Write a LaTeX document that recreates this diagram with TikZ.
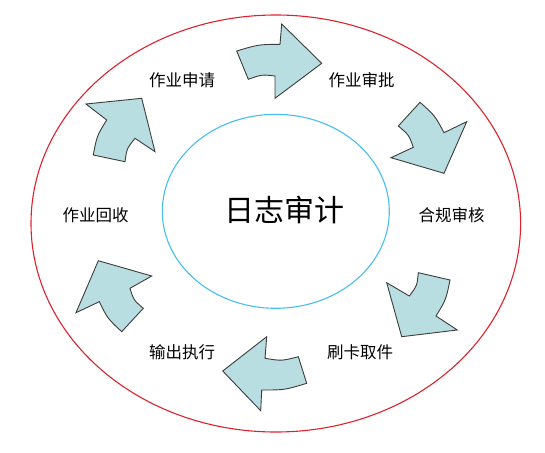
\documentclass[tikz,border=0pt]{standalone}
\usepackage{fontspec}
\setmainfont{Noto Sans CJK SC}
\definecolor{arrowfill}{RGB}{184,222,225}
\definecolor{arrowline}{RGB}{60,60,60}
\definecolor{outerred}{RGB}{220,35,45}
\definecolor{innerblue}{RGB}{70,190,240}
\tikzset{
  flowarrow/.style={fill=arrowfill, draw=arrowline, line width=0.9pt, line join=miter},
  steplabel/.style={font=\fontsize{16.5}{18}\selectfont, inner sep=0pt, text=black},
  centerlabel/.style={font=\fontsize{30}{34}\selectfont, inner sep=0pt, text=black}
}
\begin{document}
\begin{tikzpicture}[x=1pt,y=-1pt]
\useasboundingbox (0,0) rectangle (545,452);
% ellipses
\draw[outerred, line width=1.1pt] (275.8,223.5) ellipse [x radius=244.8, y radius=208.5];
\draw[innerblue, line width=1.1pt] (275.8,211.3) ellipse [x radius=113.5, y radius=97];
\node[centerlabel] (center) at (284,210) {日志审计};
% labels
\node[steplabel] (apply) at (182,80.5) {作业申请};
\node[steplabel] (approve) at (361.5,80.5) {作业审批};
\node[steplabel] (check) at (451.5,215) {合规审核};
\node[steplabel] (pickup) at (360,352) {刷卡取件};
\node[steplabel] (output) at (182,352) {输出执行};
\node[steplabel] (recycle) at (95.5,215) {作业回收};
% arrow 1 (top, right)
\draw[flowarrow] (236.7,51) .. controls (258.4,44.5) .. (280,44.3) -- (281.7,24) -- (321.7,63.3)
  -- (275,98.3) -- (275,76) .. controls (261.7,74.5) .. (248.3,79.3) -- cycle;
% arrow 2 (upper right, down-right)
\draw[flowarrow] (420,102.3) .. controls (435,115.7) .. (444,132.7) -- (466.7,121.7) -- (444,173.3)
  -- (391,157.7) -- (413.3,147.3) .. controls (409,135) .. (398.3,126) -- cycle;
% arrow 3 (lower right, down-left)
\draw[flowarrow] (418.3,272.7) -- (450,280) .. controls (446,299.7) .. (436,316) -- (457.3,330)
  -- (401.7,336.7) -- (386.7,282.7) -- (409.3,296) .. controls (417,286) .. (418.3,272.7) -- cycle;
% arrow 4 (bottom, left)
\draw[flowarrow] (222.7,371) -- (266.7,336.7) -- (265,358.3) .. controls (281.7,361) .. (298.3,356.7)
  -- (306.7,383.3) .. controls (284.5,390) .. (261.7,390) -- (260.7,410.7) -- cycle;
% arrow 5 (lower left, up)
\draw[flowarrow] (98.3,260.7) -- (151.7,276) -- (130,288.3) .. controls (133.6,300) .. (143.3,308.3)
  -- (121.7,331.7) .. controls (107.5,318.4) .. (99.3,301.7) -- (76,312.7) -- cycle;
% arrow 6 (upper left, up-right)
\draw[flowarrow] (86,104) -- (141.7,98.3) -- (155,151.7) -- (135,138.3) .. controls (126.8,148.6) .. (125,161.7)
  -- (93.3,155) .. controls (96.8,136) .. (106.7,120) -- cycle;
\end{tikzpicture}
\end{document}
